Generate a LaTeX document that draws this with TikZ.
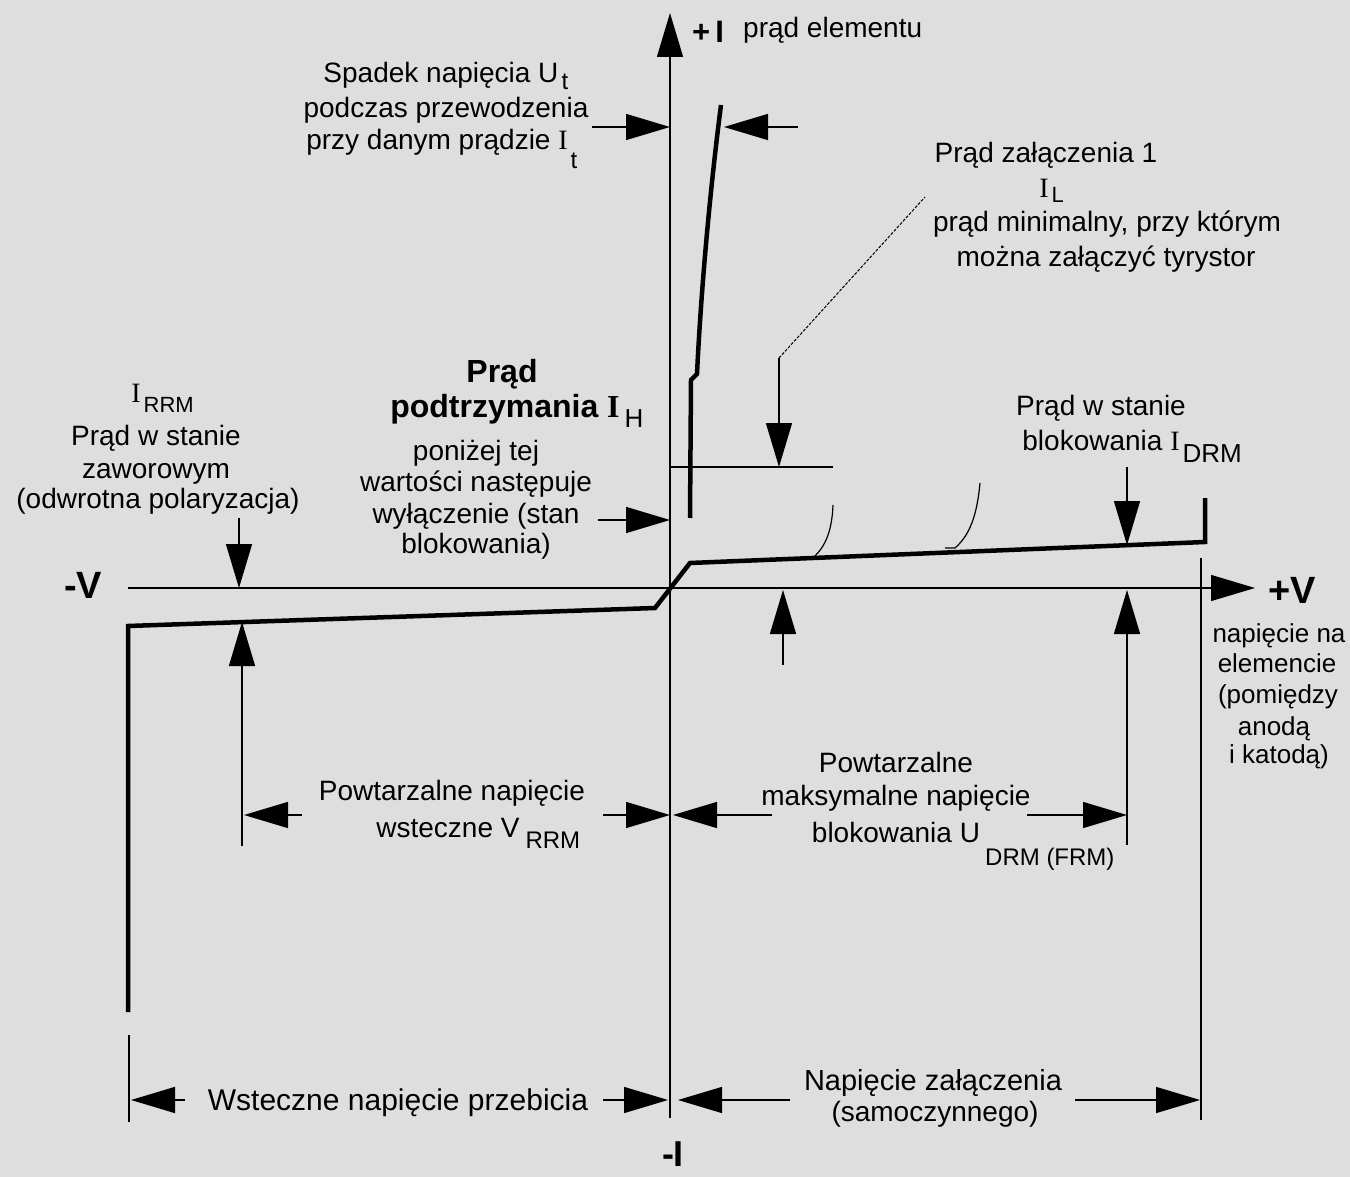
\documentclass[tikz,border=0pt]{standalone}
\usepackage{fontspec}
\setmainfont{Liberation Sans}
\newfontfamily\serI{Liberation Serif}
\usetikzlibrary{arrows.meta}
\definecolor{bgc}{RGB}{222,222,222}
\newcommand\sbx[4]{\rlap{\hspace{#1pt}\raisebox{-#2pt}{\fontsize{#3}{#3}\selectfont #4}}}
\begin{document}
\begin{tikzpicture}[x=1pt,y=-1pt,
  ln/.style={line width=1.4pt},
  crv/.style={line width=4.5pt},
  arr/.style={ln,-{Triangle[length=44pt,width=26pt]}},
  txt/.style={inner sep=0pt,anchor=base,font=\fontsize{28}{33}\selectfont},
  btxt/.style={inner sep=0pt,anchor=base,font=\fontsize{32}{36}\selectfont\bfseries},
  lead/.style={line width=1pt,dash pattern=on 3pt off 1.5pt}]
\useasboundingbox (0,0) rectangle (1350,1177);
\fill[bgc] (0,0) rectangle (1350,1177);

% axes
\coordinate (ya) at (670,1118); \coordinate (yb) at (670,13);
\coordinate (xa) at (128,588);  \coordinate (xb) at (1255,588);
\draw[arr] (ya) -- (yb);
\draw[arr] (xa) -- (xb);

% characteristic
\draw[crv] (128,1012) -- (128,626) -- (655,608) -- (690,563) -- (1205,542) -- (1205,498);
\draw[crv] (690,518) -- (691,380) -- (697,374) .. controls (701,290) and (710,190) .. (721,105);
% breakover knees
\draw[line width=1.2pt] (815,556) .. controls (826,545) and (832,530) .. (833,505);
\draw[line width=1.2pt] (945,548) -- (955,548) .. controls (970,535) and (977,515) .. (980,483);

% holding level line and leader
\coordinate (h0) at (670,467); \coordinate (h1) at (833,467);
\draw[ln] (h0) -- (h1);
\coordinate (la) at (779,358); \coordinate (lb) at (925,197);
\draw[lead] (la) -- (lb);

% arrows
\coordinate (a3s) at (592,127); \coordinate (a3t) at (670,127);
\draw[arr] (a3s) -- (a3t);
\coordinate (a4s) at (798,127); \coordinate (a4t) at (724,127);
\draw[arr] (a4s) -- (a4t);
\coordinate (a5t) at (779,467);
\draw[arr] (la) -- (a5t);
\coordinate (a6s) at (598,520); \coordinate (a6t) at (670,520);
\draw[arr] (a6s) -- (a6t);
\coordinate (a7s) at (239,518); \coordinate (a7t) at (239,588);
\draw[arr] (a7s) -- (a7t);
\coordinate (a8s) at (242,846); \coordinate (a8t) at (242,622);
\draw[arr] (a8s) -- (a8t);
\coordinate (a9s) at (302,815); \coordinate (a9t) at (244,815);
\draw[arr] (a9s) -- (a9t);
\coordinate (a10s) at (603,815); \coordinate (a10t) at (670,815);
\draw[arr] (a10s) -- (a10t);
\coordinate (a11s) at (772,815); \coordinate (a11t) at (673,815);
\draw[arr] (a11s) -- (a11t);
\coordinate (a12s) at (1027,815); \coordinate (a12t) at (1127,815);
\draw[arr] (a12s) -- (a12t);
\coordinate (a13s) at (1127,845); \coordinate (a13t) at (1127,590);
\draw[arr] (a13s) -- (a13t);
\coordinate (a14s) at (1127,467); \coordinate (a14t) at (1127,545);
\draw[arr] (a14s) -- (a14t);
\coordinate (a15s) at (783,665); \coordinate (a15t) at (783,590);
\draw[arr] (a15s) -- (a15t);
\coordinate (a16s) at (185,1100); \coordinate (a16t) at (131,1100);
\draw[arr] (a16s) -- (a16t);
\coordinate (a17s) at (603,1100); \coordinate (a17t) at (668,1100);
\draw[arr] (a17s) -- (a17t);
\coordinate (a18s) at (790,1100); \coordinate (a18t) at (678,1100);
\draw[arr] (a18s) -- (a18t);
\coordinate (a19s) at (1075,1100); \coordinate (a19t) at (1200,1100);
\draw[arr] (a19s) -- (a19t);

% boundary lines
\coordinate (lb1) at (129,1035); \coordinate (lb2) at (129,1122);
\draw[ln] (lb1) -- (lb2);
\coordinate (rb1) at (1201,558); \coordinate (rb2) at (1201,1120);
\draw[ln] (rb1) -- (rb2);

% axis labels
\node[btxt,anchor=base west,font=\fontsize{31}{33}\selectfont\bfseries] (pI) at (692,43) {+\,I};
\node[txt,anchor=base west] (pIt) at (743,38) {prąd elementu};
\node[btxt,anchor=base west,font=\fontsize{38}{40}\selectfont\bfseries] (pV) at (1268,603) {+V};
\node[btxt,anchor=base west,font=\fontsize{38}{40}\selectfont\bfseries] (mV) at (64,598) {-V};
\node[btxt,font=\fontsize{36}{38}\selectfont\bfseries] (mI) at (673,1166) {-I};

% voltage drop block
\node[txt] (s1) at (441,83) {Spadek napięcia U\sbx{3}{7}{24}{t}};
\node[txt] (s2) at (446,118) {podczas przewodzenia};
\node[txt] (s3) at (437,150) {przy danym prądzie {\serI I}\sbx{3}{19}{24}{t}};

% latching current block
\node[txt] (z1) at (1046,163) {Prąd załączenia 1};
\node[txt] (z2) at (1044,198) {{\serI I}\sbx{3}{5}{22}{L}};
\node[txt] (z3) at (1107,232) {prąd minimalny, przy którym};
\node[txt] (z4) at (1106,267) {można załączyć tyrystor};

% blocking current block
\node[txt] (d1) at (1101,415) {Prąd w stanie};
\node[txt] (d2) at (1101,450) {blokowania {\serI I}\sbx{3}{12}{26}{DRM}};

% reverse current block
\node[txt] (r0) at (136,402) {{\serI I}\sbx{3}{10}{22}{RRM}};
\node[txt] (r1) at (156,445) {Prąd w stanie};
\node[txt] (r2) at (156,478) {zaworowym};
\node[txt] (r3) at (158,508) {(odwrotna polaryzacja)};

% holding current block
\node[btxt] (h1t) at (502,382) {Prąd};
\node[btxt] (h2t) at (505,417) {podtrzymania {\serI\bfseries I}\sbx{5}{10}{26}{\mdseries H}};
\node[txt] (h3) at (476,460) {poniżej tej};
\node[txt] (h4) at (476,491) {wartości następuje};
\node[txt] (h5) at (476,523) {wyłączenie (stan};
\node[txt] (h6) at (476,553) {blokowania)};

% VRRM block
\node[txt] (v1) at (452,800) {Powtarzalne napięcie};
\node[txt] (v2) at (448,837) {wsteczne V\sbx{6}{11}{24}{RRM}};

% UDRM block
\node[txt] (u1) at (896,772) {Powtarzalne};
\node[txt] (u2) at (896,805) {maksymalne napięcie};
\node[txt] (u3) at (896,842) {blokowania U};
\node[txt,anchor=base west,font=\fontsize{24}{28}\selectfont] (u4) at (985,865) {DRM (FRM)};

% bottom labels
\node[txt,font=\fontsize{30}{34}\selectfont] (b1) at (398,1110) {Wsteczne napięcie przebicia};
\node[txt,font=\fontsize{29}{34}\selectfont] (b2) at (933,1090) {Napięcie załączenia};
\node[txt] (b3) at (935,1121) {(samoczynnego)};

% right label
\node[txt,font=\fontsize{26}{30}\selectfont] (n1) at (1279,642) {napięcie na};
\node[txt,font=\fontsize{26}{30}\selectfont] (n2) at (1277,672) {elemencie};
\node[txt,font=\fontsize{26}{30}\selectfont] (n3) at (1278,703) {(pomiędzy};
\node[txt,font=\fontsize{26}{30}\selectfont] (n4) at (1274,735) {anodą};
\node[txt,font=\fontsize{26}{30}\selectfont] (n5) at (1279,763) {i katodą)};
\end{tikzpicture}
\end{document}
